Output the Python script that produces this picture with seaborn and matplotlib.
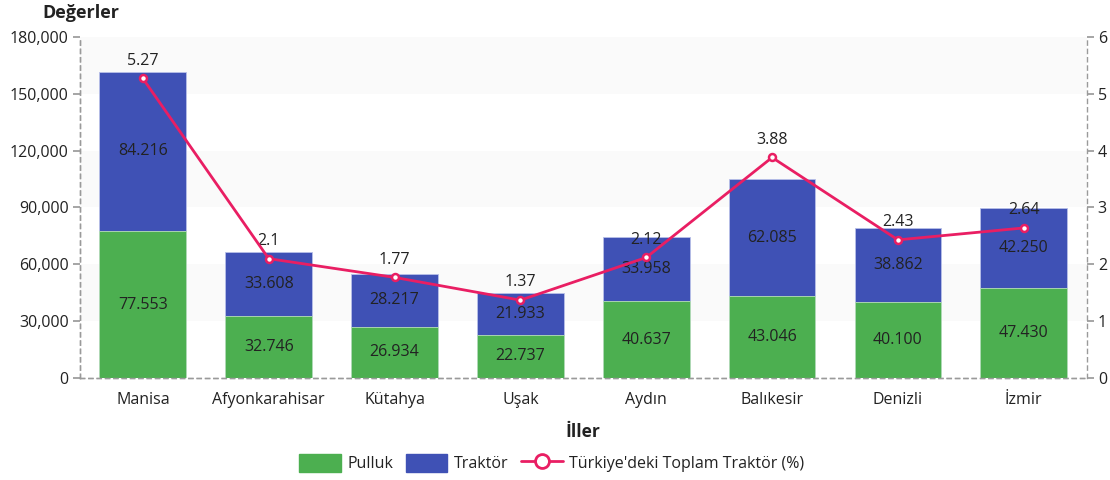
import matplotlib
matplotlib.use("Agg")
import matplotlib.pyplot as plt
import seaborn as sns
import numpy as np
from matplotlib.patches import Patch
from matplotlib.lines import Line2D

# --- Data ---
iller = ["Manisa", "Afyonkarahisar", "Kütahya", "Uşak", "Aydın", "Balıkesir", "Denizli", "İzmir"]
pulluk = [77553, 32746, 26934, 22737, 40637, 43046, 40100, 47430]
traktor = [84216, 33608, 28217, 21933, 33958, 62085, 38862, 42250]
toplam_pct = [5.27, 2.1, 1.77, 1.37, 2.12, 3.88, 2.43, 2.64]
left_ticks = [0, 30000, 60000, 90000, 120000, 150000, 180000]
right_ticks = [0, 1, 2, 3, 4, 5, 6]

GREEN = "#4caf50"
BLUE = "#3f51b5"
PINK = "#e91e63"
AXIS = "#9a9a9a"
TEXT = "#222222"

sns.set_theme(style="white")
plt.rcParams["font.family"] = ["Open Sans", "DejaVu Sans"]

fig, ax = plt.subplots(figsize=(11.1, 4.8), dpi=100)
fig.subplots_adjust(left=0.072, right=0.979, top=0.923, bottom=0.2125)

# alternating background bands
for i, lo in enumerate(left_ticks[:-1]):
    if i % 2 == 1:
        ax.axhspan(lo, left_ticks[i + 1], color="#fafafa", zorder=0, lw=0)

totals = [p + t for p, t in zip(pulluk, traktor)]
sns.barplot(x=iller, y=totals, color=BLUE, saturation=1, width=0.69,
            edgecolor="#b8c0e8", linewidth=0.6, ax=ax, zorder=2)
sns.barplot(x=iller, y=pulluk, color=GREEN, saturation=1, width=0.69,
            edgecolor="#b8e0ba", linewidth=0.6, ax=ax, zorder=3)

for i, (p, t) in enumerate(zip(pulluk, traktor)):
    ax.text(i, p / 2, f"{p:,}".replace(",", "."), ha="center", va="center",
            fontsize=11.5, color=TEXT, zorder=5)
    ax.text(i, p + t / 2, f"{t:,}".replace(",", "."), ha="center", va="center",
            fontsize=11.5, color=TEXT, zorder=5)

ax.set_ylim(0, 180000)
ax.set_xlim(-0.5, len(iller) - 0.5)
ax.set_yticks(left_ticks)
ax.set_yticklabels([f"{v:,}" for v in left_ticks])
ax.set_xticks(range(len(iller)))
ax.set_xticklabels(iller)
ax.set_xticks(np.arange(-0.5, len(iller)), minor=True)
ax.tick_params(axis="x", which="major", length=0, labelsize=11.5, colors=TEXT, pad=10)
ax.tick_params(axis="x", which="minor", length=5, color=AXIS, direction="out")
ax.tick_params(axis="y", length=5, color=AXIS, left=True, labelsize=11.5, labelcolor=TEXT, pad=3)
ax.set_xlabel("İller", fontsize=12.5, fontweight="bold", color=TEXT, labelpad=11)
ax.set_ylabel("")

ax2 = ax.twinx()
sns.lineplot(x=np.arange(len(iller)), y=toplam_pct, color=PINK, lw=2,
             marker="o", markersize=5, markerfacecolor="white",
             markeredgecolor=PINK, markeredgewidth=1.8, ax=ax2, zorder=6)
for i, v in enumerate(toplam_pct):
    ax2.annotate(f"{v:g}", (i, v), xytext=(0, 7), textcoords="offset points",
                 ha="center", va="bottom", fontsize=11.5, color=TEXT)
ax2.set_ylim(0, 6)
ax2.set_yticks(right_ticks)
ax2.set_xlim(-0.5, len(iller) - 0.5)
ax2.tick_params(axis="y", length=5, color=AXIS, right=True, labelsize=11.5, labelcolor=TEXT, pad=3)
ax2.set_ylabel("")

for a in (ax, ax2):
    for side in ("left", "right", "bottom"):
        a.spines[side].set_linestyle((0, (3, 3)))
        a.spines[side].set_color(AXIS)
        a.spines[side].set_linewidth(1)
    a.spines["top"].set_visible(False)
ax.spines["right"].set_visible(False)

fig.text(0.073, 0.972, "Değerler", ha="center", va="center",
         fontsize=13, fontweight="bold", color=TEXT)

handles = [
    Patch(facecolor=GREEN, edgecolor=GREEN, label="Pulluk"),
    Patch(facecolor=BLUE, edgecolor=BLUE, label="Traktör"),
    Line2D([0], [0], color=PINK, lw=2, marker="o", markersize=10,
           markerfacecolor="white", markeredgecolor=PINK, markeredgewidth=2,
           label="Türkiye'deki Toplam Traktör (%)"),
]
fig.legend(handles=handles, loc="center", bbox_to_anchor=(0.497, 0.035), ncol=3,
           frameon=False, fontsize=11.5, handlelength=2.6, handleheight=1.4,
           columnspacing=0.8, handletextpad=0.4, labelcolor=TEXT)

fig.savefig("out.png", dpi=100)
